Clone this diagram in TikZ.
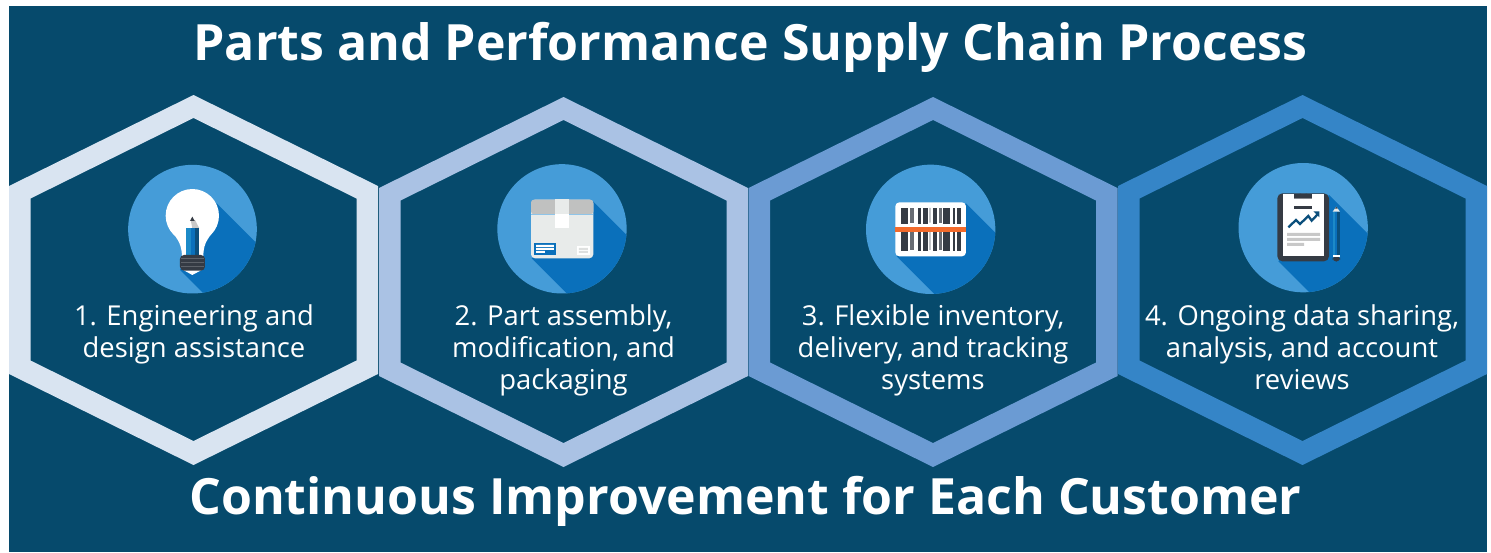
\documentclass[tikz,border=0pt]{standalone}
\usepackage{fontspec}
\setmainfont{Open Sans}
\definecolor{bgblue}{RGB}{6,74,108}
\definecolor{hexa}{RGB}{217,228,241}
\definecolor{hexb}{RGB}{170,194,228}
\definecolor{hexc}{RGB}{107,155,211}
\definecolor{hexd}{RGB}{53,133,199}
\definecolor{disc}{RGB}{69,156,216}
\definecolor{shadeblue}{RGB}{10,112,187}
\definecolor{ink}{RGB}{53,59,68}
\definecolor{midblue}{RGB}{28,138,200}
\definecolor{deepblue}{RGB}{11,79,124}
\definecolor{boxgrey}{RGB}{192,193,192}
\definecolor{boxbody}{RGB}{232,235,234}
\definecolor{linegrey}{RGB}{200,200,200}
\definecolor{scanred}{RGB}{242,107,44}
\newcommand{\hexring}[3]{% centre x, top y, colour
  \fill[#3,even odd rule] (#1,#2) -- ++(184.5,91) -- ++(0,188) -- ++(-184.5,91) -- ++(-184.5,-91) -- ++(0,-188) -- cycle
    (#1,#2+23) -- ++(163,80.5) -- ++(0,162) -- ++(-163,80.5) -- ++(-163,-80.5) -- ++(0,-162) -- cycle;}
\tikzset{
  x=1pt,y=-1pt,
  titletext/.style={text=white,font=\fontsize{50}{50}\selectfont\bfseries,anchor=base,inner sep=0pt},
  steptext/.style={text=white,font=\fontsize{27.4}{32}\selectfont,align=center,anchor=base,inner sep=0pt},
  iconscope/.style={shift={#1},x=0.3333pt,y=-0.3333pt},
}
\begin{document}
\begin{tikzpicture}
\useasboundingbox (0,0) rectangle (1491,552);
\fill[white] (0,0) rectangle (1491,552);
\fill[bgblue] (9,6) rectangle (1487,552);
\begin{scope}
\clip (9,6) rectangle (1487,552);
\hexring{193.5}{95}{hexa}
\hexring{563.5}{97}{hexb}
\hexring{933}{97}{hexc}
\hexring{1302.5}{95}{hexd}
\end{scope}

% icon 1: bulb
\begin{scope}[iconscope={(100,150)}]
\fill[disc] (277.5,237.5) circle (193);
\begin{scope}
\clip (277.5,237.5) circle (193);
\fill[shadeblue] (350,160) -- ++(400,400) -- (640,760) -- (240,360) -- cycle;
\end{scope}
\fill[white] (277,197) circle (80);
\fill[white] (205,225) .. controls (225,265) and (245,270) .. (246,320) -- (310,320) .. controls (310,270) and (330,265) .. (350,225) -- cycle;
\fill[white] (250,360) -- (305,360) -- (277,375) -- cycle;
\fill[linegrey] (272,210) -- (285,210) -- (298,235) -- (277,235) -- cycle;
\fill[ink] (277,200) -- (284,213) -- (270,213) -- cycle;
\fill[midblue] (258,235) rectangle (272,316);
\fill[shadeblue] (272,235) rectangle (285,316);
\fill[deepblue] (285,235) rectangle (298,316);
\fill[ink,rounded corners=4] (240,315) rectangle (315,362);
\foreach \yy in {324,336,348} \fill[ink!80!white] (242,\yy) rectangle (313,\yy+3);
\end{scope}

% icon 2: parcel
\begin{scope}[iconscope={(480,150)}]
\fill[disc] (246,236.5) circle (194);
\begin{scope}
\clip (246,236.5) circle (194);
\fill[shadeblue] (340,155) -- ++(400,400) -- (555,725) -- (155,325) -- cycle;
\end{scope}
\fill[boxbody,rounded corners=4] (153,149) rectangle (340,325);
\fill[boxgrey,rounded corners=3] (153,149) rectangle (340,193);
\fill[disc!60!white] (153,192) rectangle (340,195);
\fill[boxbody] (225,147) rectangle (267,192);
\fill[white] (225,192) rectangle (267,235);
\fill[shadeblue] (162,279) rectangle (228,315);
\fill[white] (168,285) rectangle (222,291) (168,294) rectangle (222,300) (168,303) rectangle (195,309);
\fill[white] (291,288) rectangle (330,315);
\fill[boxbody!90!gray] (297,294) rectangle (324,300) (297,303) rectangle (324,309);
\end{scope}

% icon 3: barcode
\begin{scope}[iconscope={(850,150)}]
\fill[disc] (242,238) circle (194);
\begin{scope}
\clip (242,238) circle (194);
\fill[shadeblue] (348,160) -- ++(400,400) -- (540,719) -- (140,319) -- cycle;
\end{scope}
\fill[white,rounded corners=4] (136,157) rectangle (348,319);
\foreach \xa/\xb in {153/175,204/214,219/235,250/262,279/300,309/316,321/333} {
  \fill[ink] (\xa,174) rectangle (\xb,221);
  \fill[ink] (\xa,246) rectangle (\xb,302);
}
\foreach \xa/\xb in {180/191,268/276} {
  \fill[ink!75!white] (\xa,174) rectangle (\xb,218);
  \fill[ink!75!white] (\xa,246) rectangle (\xb,300);
}
\fill[ink!45!white] (238,174) rectangle (242,218) (238,246) rectangle (242,300);
\fill[scanred] (136,231) rectangle (348,245);
\end{scope}

% icon 4: clipboard
\begin{scope}[iconscope={(1220,150)}]
\fill[disc] (249.5,233) circle (194);
\begin{scope}
\clip (249.5,233) circle (194);
\fill[shadeblue] (327,135) -- ++(400,400) -- (575,734) -- (175,334) -- cycle;
\end{scope}
\fill[ink,rounded corners=5] (172,130) rectangle (327,334);
\fill[white] (189,132) rectangle (312,318);
\draw[ink,line width=2.5pt] (239,132) arc (180:0:11);
\fill[ink] (223,132) rectangle (277,144);
\fill[ink!60!white] (223,144) rectangle (277,148);
\fill[ink] (222,168) rectangle (276,177);
\draw[deepblue,line width=2.3pt] (205,232) -- (228,210) -- (240,222) -- (265,198) -- (275,212) -- (294,192);
\fill[deepblue] (280,184) -- (298,184) -- (298,202) -- cycle;
\fill[linegrey] (201,249) rectangle (300,258) (201,264) rectangle (300,273) (201,279) rectangle (252,288);
\fill[boxbody] (349,170) -- (338,185) -- (360,185) -- cycle;
\fill[ink] (349,170) -- (345,176) -- (353,176) -- cycle;
\fill[ink,rounded corners=4] (338,318) rectangle (360,335);
\fill[midblue] (338,185) rectangle (346,315);
\fill[shadeblue] (346,185) rectangle (352,315);
\fill[deepblue] (352,185) rectangle (360,315);
\fill[white] (338,315) rectangle (360,322);
\end{scope}

\node[titletext] (title) at (750.5,60) {Parts and Performance Supply Chain Process};
\node[titletext] (footer) at (745.5,514) {Continuous Improvement for Each Customer};
\node[steptext] (s1) at (194,357) {1. Engineering and\\design assistance};
\node[steptext] (s2) at (563.5,389) {2. Part assembly,\\modification, and\\packaging};
\node[steptext] (s3) at (933,389) {3. Flexible inventory,\\delivery, and tracking\\systems};
\node[steptext] (s4) at (1302,389) {4. Ongoing data sharing,\\analysis, and account\\reviews};
\end{tikzpicture}
\end{document}
